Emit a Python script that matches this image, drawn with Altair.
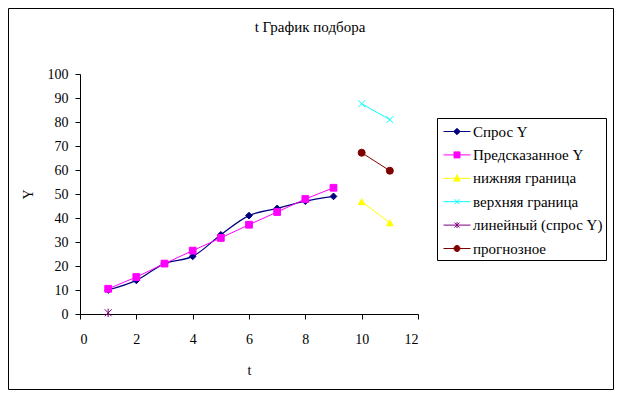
import altair as alt
import pandas as pd

# ---- data ----
t_hist = [1, 2, 3, 4, 5, 6, 7, 8, 9]
demand = [10, 14, 21, 24, 33, 41, 44, 47, 49]
predicted = [10.5, 15.4, 21, 26.4, 31.7, 37.2, 42.5, 47.9, 52.6]
t_fc = [10, 11]
lower = [46.8, 38]
upper = [87.6, 81]
forecast = [67.2, 59.7]
t_lin = [1]
linear = [0.5]

series_names = ["Спрос Y", "Предсказанное Y", "нижняя граница",
                "верхняя граница", "линейный (спрос Y)", "прогнозное"]
series_colors = ["#000080", "#FF00FF", "#FFFF00", "#00FFFF", "#800080", "#800000"]

rows = []
for t, v in zip(t_hist, demand):
    rows.append({"t": t, "v": v, "s": series_names[0]})
for t, v in zip(t_hist, predicted):
    rows.append({"t": t, "v": v, "s": series_names[1]})
for t, v in zip(t_fc, lower):
    rows.append({"t": t, "v": v, "s": series_names[2]})
for t, v in zip(t_fc, upper):
    rows.append({"t": t, "v": v, "s": series_names[3]})
for t, v in zip(t_lin, linear):
    rows.append({"t": t, "v": v, "s": series_names[4]})
for t, v in zip(t_fc, forecast):
    rows.append({"t": t, "v": v, "s": series_names[5]})
df = pd.DataFrame(rows)

FONT = "Liberation Serif"

# marker shapes
x_path = "M-1,-1L1,1M-1,1L1,-1"
star_path = "M-1,-1L1,1M-1,1L1,-1M0,-1.2V1.2"
marker_shapes = ["diamond", "square", "triangle-up", x_path, star_path, "circle"]
marker_sizes = [45, 49, 60, 36, 36, 42]

# legend symbols: line + marker (unit = 10 px)
def lg(marker):
    return "M-0.7,0H2.0" + marker

legend_shapes = [
    lg("M0.65,-0.32L0.97,0L0.65,0.32L0.33,0Z"),
    lg("M0.35,-0.3H0.95V0.3H0.35Z"),
    lg("M0.65,-0.35L0.97,0.28H0.33Z"),
    lg("M0.4,-0.25L0.9,0.25M0.4,0.25L0.9,-0.25"),
    lg("M0.4,-0.25L0.9,0.25M0.4,0.25L0.9,-0.25M0.65,-0.3V0.3"),
    lg("M0.95,0A0.3,0.3,0,1,1,0.35,0A0.3,0.3,0,1,1,0.95,0Z"),
]

xs = alt.X("t:Q", scale=alt.Scale(domain=[0, 12], nice=False),
           axis=alt.Axis(values=[0, 2, 4, 6, 8, 10, 12], title="t",
                         titleX=169, titleY=56, titleBaseline="middle",
                         titleFontWeight="normal", labelPadding=13))
ys = alt.Y("v:Q", scale=alt.Scale(domain=[0, 100], nice=False),
           axis=alt.Axis(values=list(range(0, 101, 10)), title="Y",
                         titleX=-52, titleY=120, titleAlign="center",
                         titleBaseline="middle", titleFontWeight="normal",
                         labelPadding=7))

base = alt.Chart(df)

def cscale():
    return alt.Scale(domain=series_names, range=series_colors)

smooth = base.transform_filter(alt.datum.s == series_names[0]).mark_line(
    interpolate="catmull-rom", strokeWidth=1.2).encode(
    x=xs, y=ys, color=alt.Color("s:N", scale=cscale(), legend=None))

straight = base.transform_filter(alt.datum.s != series_names[0]).mark_line(
    strokeWidth=1).encode(x=xs, y=ys, color=alt.Color("s:N", scale=cscale(), legend=None),
                          detail="s:N")

points = base.mark_point(filled=True, strokeWidth=1, opacity=1).encode(
    x=xs, y=ys,
    fill=alt.Fill("s:N", scale=cscale(), legend=None),
    stroke=alt.Stroke("s:N", scale=cscale(), legend=None),
    shape=alt.Shape("s:N", scale=alt.Scale(domain=series_names, range=marker_shapes), legend=None),
    size=alt.Size("s:N", scale=alt.Scale(domain=series_names, range=marker_sizes), legend=None),
)

leg = alt.Legend(title=None, orient="none", legendX=357, legendY=44,
                 padding=3, strokeColor="black", fillColor="white",
                 symbolSize=400, symbolStrokeWidth=1, symbolOpacity=1,
                 labelFont=FONT, labelFontSize=15, labelColor="black",
                 labelOffset=12, rowPadding=4.4,
                 labelExpr="datum.label == 'Спрос Y' ? '\u00a0Спрос Y' : datum.label")

legend_layer = base.mark_point(filled=True, opacity=0).encode(
    x=xs, y=ys,
    fill=alt.Fill("s:N", scale=cscale(), legend=leg),
    stroke=alt.Stroke("s:N", scale=cscale(), legend=leg),
    shape=alt.Shape("s:N", scale=alt.Scale(domain=series_names, range=legend_shapes), legend=leg),
)

frame = alt.Chart(pd.DataFrame({"k": [0]})).mark_rect(
    fill=None, stroke="black", strokeWidth=1).encode(
    x=alt.value(-71.5), x2=alt.value(533.5), y=alt.value(-65.5), y2=alt.value(315.5))

chart = alt.layer(frame, smooth, straight, points, legend_layer).resolve_scale(
    color="independent", fill="independent", stroke="independent",
    shape="independent", size="independent"
).properties(
    width=338, height=240,
    padding={"left": 72, "top": 66, "right": 196, "bottom": 76},
    autosize=alt.AutoSizeParams(type="none"),
    title=alt.Title("t График подбора", font=FONT, fontSize=15, fontWeight="normal",
                    color="black", anchor="middle", dx=61, offset=-27),
).configure_view(stroke=None).configure_axis(
    grid=False, domainColor="black", tickColor="black", tickSize=5,
    labelFont=FONT, labelFontSize=14, labelColor="black",
    titleFont=FONT, titleFontSize=14, titleColor="black",
    domainWidth=1, tickWidth=1,
)

chart.save("out.html", embed_options={"renderer": "svg", "actions": False})
